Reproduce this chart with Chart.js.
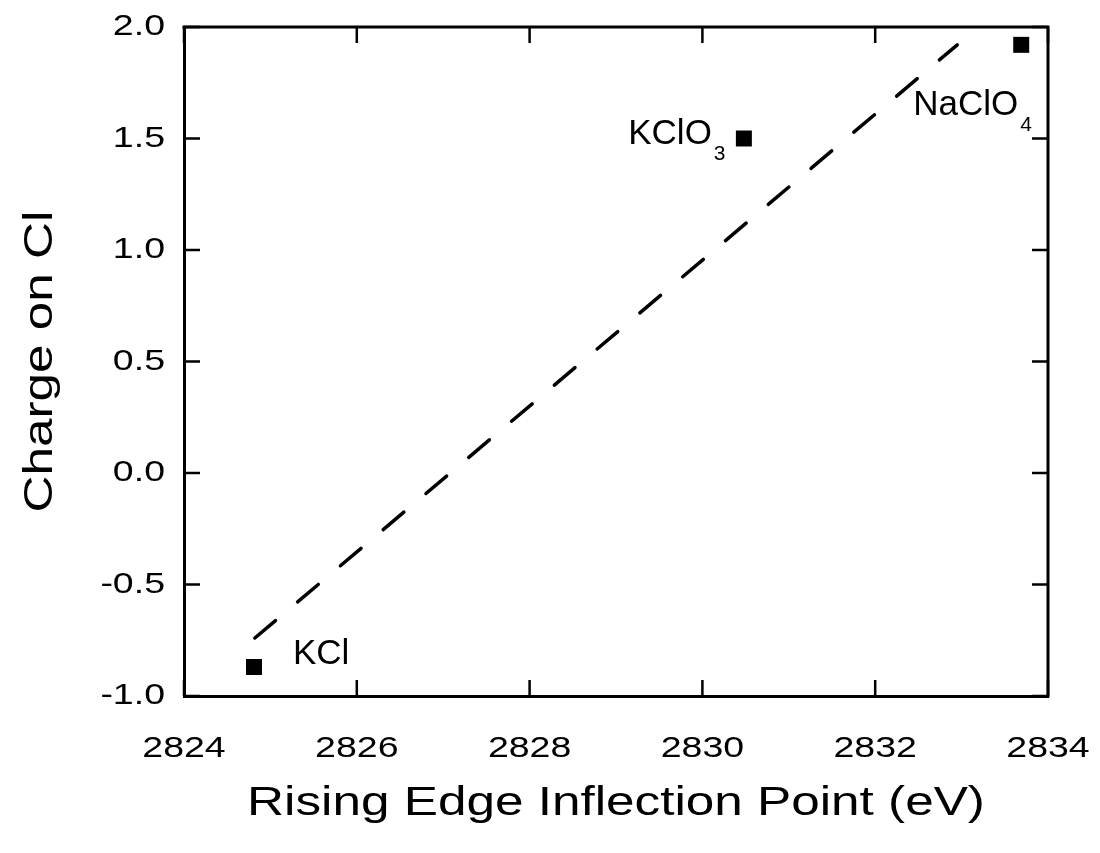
<!DOCTYPE html>
<html>
<head>
<meta charset="utf-8">
<script src="https://cdn.jsdelivr.net/npm/chart.js@4.4.1/dist/chart.umd.min.js"></script>
<style>
html, body { margin: 0; padding: 0; background: #ffffff; }
canvas { display: block; }
</style>
</head>
<body>
<canvas id="c" width="1100" height="853" style="width:1100px;height:853px"></canvas>
<script>
// ---- data ----
const compounds   = ['KCl', 'KClO', 'NaClO'];
const subscripts  = ['', '3', '4'];
const edgeEnergy  = [2824.81, 2830.48, 2833.69];   // eV
const clCharge    = [-0.87, 1.50, 1.92];
const fitEnergy   = [2824.82, 2832.95];
const fitCharge   = [-0.74, 1.92];
const xTickRange  = [2824, 2834, 2];
const yTickRange  = [-1.0, 2.0, 0.5];
const xTitle = 'Rising Edge Inflection Point (eV)';
const yTitle = 'Charge on Cl';

const FONT = "'Liberation Sans', Arial, Helvetica, sans-serif";
const canvas = document.getElementById('c');
const ctx = canvas.getContext('2d');

// axis text in the reference uses a wide Helvetica: stretch glyphs horizontally
let stretchText = true;
const STRETCH = 1.25;
const origFill = ctx.fillText.bind(ctx);
ctx.fillText = function (t, x, y, m) {
  if (!stretchText) return origFill(t, x, y, m);
  ctx.save();
  ctx.translate(x, y);
  ctx.scale(STRETCH, 1);
  origFill(t, 0, 0, m);
  ctx.restore();
};

const framePlugin = {
  id: 'frame',
  afterDraw(chart) {
    const {ctx, chartArea: a, scales: {x, y}} = chart;
    ctx.save();
    ctx.strokeStyle = '#000';
    ctx.lineWidth = 3;
    ctx.lineCap = 'square';
    ctx.beginPath();
    ctx.moveTo(a.left, a.top); ctx.lineTo(a.right, a.top);
    ctx.moveTo(a.right, a.top); ctx.lineTo(a.right, a.bottom);
    ctx.stroke();
    ctx.lineWidth = 2.5;
    ctx.lineCap = 'butt';
    ctx.beginPath();
    const L = 16;
    x.ticks.forEach(t => {
      const px = x.getPixelForValue(t.value);
      ctx.moveTo(px, a.bottom); ctx.lineTo(px, a.bottom - L);
      ctx.moveTo(px, a.top); ctx.lineTo(px, a.top + L);
    });
    y.ticks.forEach(t => {
      const py = y.getPixelForValue(t.value);
      ctx.moveTo(a.left, py); ctx.lineTo(a.left + L, py);
      ctx.moveTo(a.right, py); ctx.lineTo(a.right - L, py);
    });
    ctx.stroke();
    ctx.restore();
  }
};

const labelLayout = [
  {dx: 39, dy: -3, align: 'left'},
  {dx: -32, dy: 5, align: 'right'},
  {dx: -3, dy: 70, align: 'right'}
];
const labelPlugin = {
  id: 'compoundLabels',
  afterDatasetsDraw(chart) {
    const {ctx, scales: {x, y}} = chart;
    stretchText = false;
    ctx.save();
    ctx.fillStyle = '#000';
    ctx.textBaseline = 'alphabetic';
    compounds.forEach((name, i) => {
      const px = x.getPixelForValue(edgeEnergy[i]);
      const py = y.getPixelForValue(clCharge[i]);
      const lay = labelLayout[i];
      ctx.font = '35px ' + FONT;
      ctx.textAlign = lay.align;
      const tx = px + lay.dx, ty = py + lay.dy;
      ctx.fillText(name, tx, ty);
      if (subscripts[i]) {
        const w = ctx.measureText(name).width;
        const endX = lay.align === 'right' ? tx : tx + w;
        ctx.font = '21px ' + FONT;
        ctx.textAlign = 'left';
        ctx.fillText(subscripts[i], endX + 2, ty + 16);
      }
    });
    ctx.restore();
    stretchText = true;
  }
};

new Chart(canvas, {
  type: 'scatter',
  data: {
    datasets: [
      {
        label: 'Fit',
        type: 'line',
        data: fitEnergy.map((v, i) => ({x: v, y: fitCharge[i]})),
        borderColor: '#000',
        borderWidth: 3.5,
        borderDash: [27, 29],
        borderCapStyle: 'round',
        pointRadius: 0,
        fill: false,
        tension: 0
      },
      {
        label: 'Compounds',
        data: edgeEnergy.map((v, i) => ({x: v, y: clCharge[i]})),
        pointStyle: 'rect',
        pointRadius: 11.3,
        pointHoverRadius: 11.3,
        backgroundColor: '#000',
        borderColor: '#000',
        borderWidth: 0
      }
    ]
  },
  options: {
    responsive: false,
    animation: false,
    devicePixelRatio: 1,
    layout: {padding: {left: 0, top: 27, right: 52, bottom: 0}},
    plugins: {legend: {display: false}, tooltip: {enabled: false}},
    scales: {
      x: {
        type: 'linear',
        min: xTickRange[0], max: xTickRange[1],
        afterFit: s => { s.height = 157; s.paddingLeft = 0; s.paddingRight = 0; },
        ticks: {stepSize: xTickRange[2], color: '#000', padding: 35,
                font: {family: FONT, size: 30}, maxRotation: 0,
                callback: v => String(v)},
        grid: {display: false, drawTicks: false},
        border: {display: true, color: '#000', width: 3},
        title: {display: true, text: xTitle, color: '#000',
                font: {family: FONT, size: 41}, padding: {top: 0, bottom: 25}}
      },
      y: {
        type: 'linear',
        min: yTickRange[0], max: yTickRange[1],
        afterFit: s => { s.width = 184; s.paddingTop = 0; s.paddingBottom = 0; },
        ticks: {stepSize: yTickRange[2], color: '#000', padding: 19,
                font: {family: FONT, size: 30},
                callback: v => v.toFixed(1)},
        grid: {display: false, drawTicks: false},
        border: {display: true, color: '#000', width: 3},
        title: {display: true, text: yTitle, color: '#000',
                font: {family: FONT, size: 41}, padding: {top: 16, bottom: 0}}
      }
    }
  },
  plugins: [framePlugin, labelPlugin]
});
</script>
</body>
</html>
